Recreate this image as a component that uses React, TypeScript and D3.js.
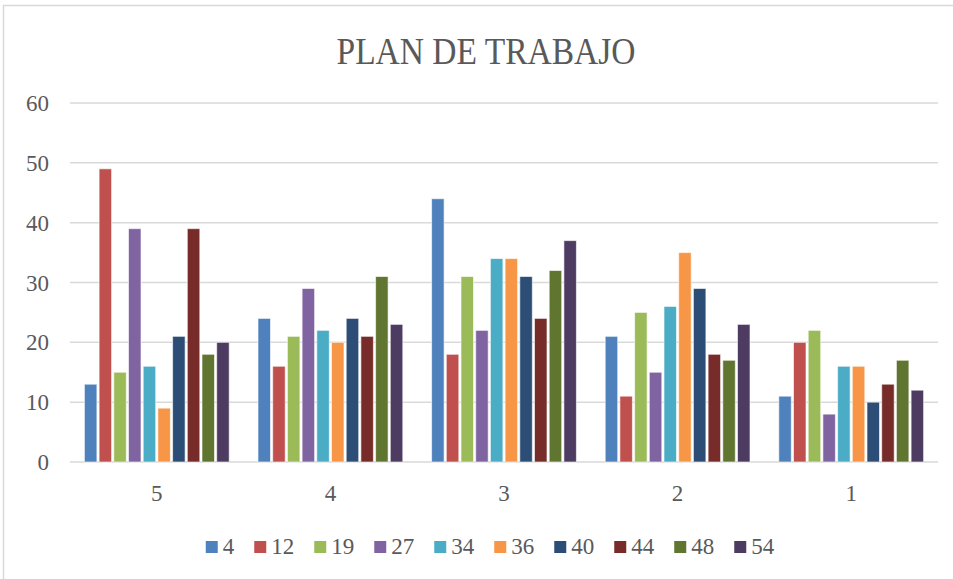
import { useEffect, useRef } from "react";
import * as d3 from "d3";

const categories = ["5", "4", "3", "2", "1"];
const seriesNames = ["4", "12", "19", "27", "34", "36", "40", "44", "48", "54"];
// values[i][j] = value of series j in category i
const values = [
  [13, 49, 15, 39, 16, 9, 21, 39, 18, 20],
  [24, 16, 21, 29, 22, 20, 24, 21, 31, 23],
  [44, 18, 31, 22, 34, 34, 31, 24, 32, 37],
  [21, 11, 25, 15, 26, 35, 29, 18, 17, 23],
  [11, 20, 22, 8, 16, 16, 10, 13, 17, 12],
];
const colors = [
  "#4F81BD", "#C0504D", "#9BBB59", "#8064A2", "#4BACC6",
  "#F79646", "#2C4D75", "#772C2A", "#5F7530", "#4D3B62",
];
const yTicks = [0, 10, 20, 30, 40, 50, 60];

const FONT = "'Liberation Serif', 'DejaVu Serif', serif";
const TEXT = "#595959";

const App = () => {
  const ref = useRef<SVGSVGElement>(null);

  useEffect(() => {
    const width = 953;
    const height = 579;
    const svg = d3.select(ref.current).attr("width", width).attr("height", height);
    svg.selectAll("*").remove();

    // chart frame
    svg
      .append("rect")
      .attr("x", 3.5)
      .attr("y", 5.5)
      .attr("width", 970)
      .attr("height", 600)
      .attr("fill", "#fff")
      .attr("stroke", "#d9d9d9")
      .attr("stroke-width", 1.5);

    // title
    svg
      .append("text")
      .attr("x", 486)
      .attr("y", 64)
      .attr("text-anchor", "middle")
      .attr("font-family", FONT)
      .attr("font-size", 38)
      .attr("fill", TEXT)
      .attr("textLength", 299)
      .attr("lengthAdjust", "spacingAndGlyphs")
      .text("PLAN DE TRABAJO");

    const x0 = d3.scaleBand().domain(categories).range([70, 938]).padding(0);
    const x1 = d3
      .scaleBand()
      .domain(seriesNames)
      .range([0, x0.bandwidth()])
      .paddingInner(0.15)
      .paddingOuter(0.98);
    const y = d3.scaleLinear().domain([0, 60]).range([462, 103]);

    // gridlines
    svg
      .append("g")
      .selectAll("line")
      .data(yTicks)
      .enter()
      .append("line")
      .attr("x1", 70)
      .attr("x2", 938)
      .attr("y1", (d) => y(d))
      .attr("y2", (d) => y(d))
      .attr("stroke", "#d9d9d9")
      .attr("stroke-width", 1.5);

    // y labels
    svg
      .append("g")
      .selectAll("text")
      .data(yTicks)
      .enter()
      .append("text")
      .attr("x", 49)
      .attr("y", (d) => y(d) + 8)
      .attr("text-anchor", "end")
      .attr("font-family", FONT)
      .attr("font-size", 23)
      .attr("fill", TEXT)
      .text((d) => d);

    // bars
    const groups = svg
      .append("g")
      .selectAll("g")
      .data(values)
      .enter()
      .append("g")
      .attr("transform", (d, i) => `translate(${x0(categories[i])},0)`);

    groups
      .selectAll("rect")
      .data((d) => d)
      .enter()
      .append("rect")
      .attr("x", (d, j) => x1(seriesNames[j]))
      .attr("y", (d) => y(d))
      .attr("width", x1.bandwidth())
      .attr("height", (d) => y(0) - y(d))
      .attr("fill", (d, j) => colors[j])
      .attr("stroke", "#fff")
      .attr("stroke-opacity", 0.6)
      .attr("stroke-width", 1);

    // category labels
    svg
      .append("g")
      .selectAll("text")
      .data(categories)
      .enter()
      .append("text")
      .attr("x", (d) => x0(d) + x0.bandwidth() / 2)
      .attr("y", 501)
      .attr("text-anchor", "middle")
      .attr("font-family", FONT)
      .attr("font-size", 23)
      .attr("fill", TEXT)
      .text((d) => d);

    // legend
    const legend = svg.append("g");
    let cx = 0;
    seriesNames.forEach((name, j) => {
      const item = legend.append("g").attr("transform", `translate(${cx},0)`);
      item
        .append("rect")
        .attr("x", 0)
        .attr("y", 541)
        .attr("width", 12)
        .attr("height", 12)
        .attr("fill", colors[j]);
      const t = item
        .append("text")
        .attr("x", 17)
        .attr("y", 554)
        .attr("font-family", FONT)
        .attr("font-size", 23)
        .attr("fill", TEXT)
        .text(name);
      const w = (t.node() as SVGTextElement).getComputedTextLength();
      cx += 17 + w + 20;
    });
    const total = cx - 20;
    legend.attr("transform", `translate(${490 - total / 2},0)`);
  }, []);

  return (
    <svg ref={ref} style={{ position: "absolute", left: 0, top: 0 }}></svg>
  );
};

export default App;
